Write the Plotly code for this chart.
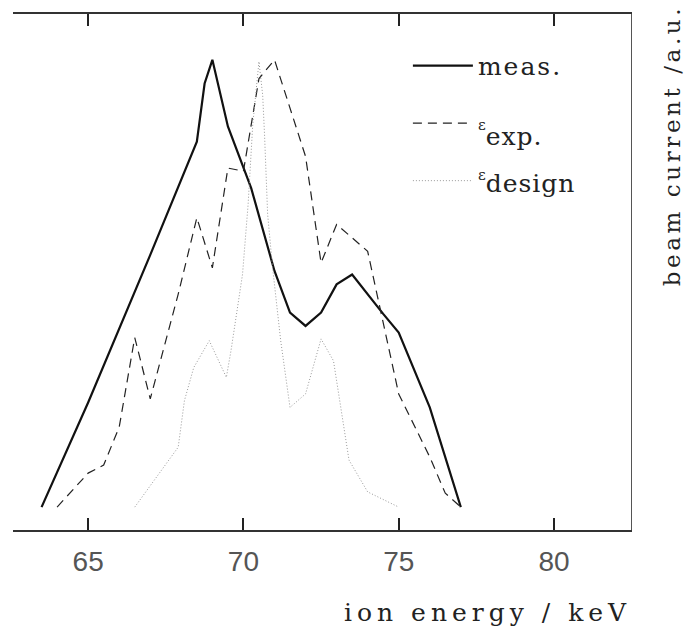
import plotly.graph_objects as go

# ion energy (keV) and beam current (a.u.)
meas_x = [63.5, 65.0, 67.0, 68.5, 68.75, 69.0, 69.5, 70.25, 71.0, 71.5, 72.0, 72.5, 73.0, 73.5, 74.5, 75.0, 76.0, 77.0]
meas_y = [0.0, 0.234, 0.564, 0.817, 0.947, 1.0, 0.851, 0.713, 0.528, 0.435, 0.405, 0.435, 0.498, 0.520, 0.432, 0.390, 0.223, 0.0]

exp_x = [64.0, 65.0, 65.5, 66.0, 66.5, 67.0, 67.9, 68.5, 69.0, 69.5, 70.0, 70.5, 71.0, 71.6, 72.0, 72.5, 73.0, 73.5, 74.0, 75.0, 76.0, 76.5, 77.0]
exp_y = [0.0, 0.076, 0.094, 0.179, 0.379, 0.242, 0.476, 0.647, 0.535, 0.758, 0.751, 0.958, 1.0, 0.869, 0.784, 0.546, 0.632, 0.602, 0.572, 0.253, 0.112, 0.031, 0.0]

design_x = [66.5, 67.9, 68.1, 68.4, 68.9, 69.45, 69.6, 69.97, 70.15, 70.3, 70.5, 70.62, 70.68, 70.78, 70.94, 71.2, 71.5, 72.0, 72.5, 72.9, 73.4, 74.0, 75.0]
design_y = [0.0, 0.134, 0.238, 0.312, 0.372, 0.290, 0.350, 0.520, 0.676, 0.855, 0.996, 0.921, 0.832, 0.654, 0.535, 0.372, 0.223, 0.253, 0.376, 0.327, 0.105, 0.034, 0.0]

names = [
    "<span style='letter-spacing:2px'>meas.</span>",
    "<span style='font-size:15px;baseline-shift:3px'>ε</span>"
    "<span style='letter-spacing:1px;baseline-shift:-12px'>exp.</span>",
    "<span style='font-size:15px;baseline-shift:10px'>ε</span>"
    "<span style='letter-spacing:1px;baseline-shift:-2px'>design</span>",
]
x_ticks = [65, 70, 75, 80]
x_title = "ion energy / keV"
y_title = "beam current /a.u."

SERIF = "DejaVu Serif"

fig = go.Figure()
fig.add_trace(go.Scatter(x=meas_x, y=meas_y, mode="lines", name=names[0], legendgroup="a",
                         line=dict(color="#111111", width=2.2)))
fig.add_trace(go.Scatter(x=exp_x, y=exp_y, mode="lines", name=names[1], legendgroup="b",
                         line=dict(color="#222222", width=1.2, dash="9px,6px")))
fig.add_trace(go.Scatter(x=design_x, y=design_y, mode="lines", name=names[2], legendgroup="c",
                         line=dict(color="#999999", width=1.0, dash="1px,2px")))

fig.update_layout(
    width=691, height=632,
    margin=dict(l=13, r=60, t=12, b=102),
    paper_bgcolor="white", plot_bgcolor="white",
    showlegend=True,
    legend=dict(x=0.639, y=0.944, xanchor="left", yanchor="top",
                bgcolor="rgba(0,0,0,0)", borderwidth=0,
                font=dict(family=SERIF, size=25, color="#222222"),
                itemwidth=60, tracegroupgap=22, traceorder="grouped"),
    xaxis=dict(range=[62.58, 82.48], tickvals=x_ticks, ticktext=[str(v) for v in x_ticks],
               ticks="inside", ticklen=12, tickwidth=1.5, tickcolor="#222222",
               showline=True, linecolor="#333333", linewidth=1.5, mirror="allticks",
               showgrid=False, zeroline=False,
               tickfont=dict(family="Liberation Sans", size=28, color="#555555"),
               ticklabelstandoff=6),
    yaxis=dict(range=[-0.0512, 1.1024], side="right", showline=True, linecolor="#555555",
               linewidth=1, showticklabels=False, ticks="", showgrid=False, zeroline=False),
    annotations=[
        dict(text="<span style='letter-spacing:5px'>" + x_title + "</span>",
             xref="paper", yref="paper", x=1.0035, y=-0.1602,
             xanchor="right", yanchor="middle", showarrow=False,
             font=dict(family=SERIF, size=25, color="#222222")),
        dict(text="<span style='letter-spacing:3.6px'>" + y_title + "</span>",
             xref="paper", yref="paper", x=1.066, y=0.745,
             xanchor="center", yanchor="middle", textangle=-90, showarrow=False,
             font=dict(family=SERIF, size=23, color="#222222")),
    ],
)

fig.write_html("out.html")
